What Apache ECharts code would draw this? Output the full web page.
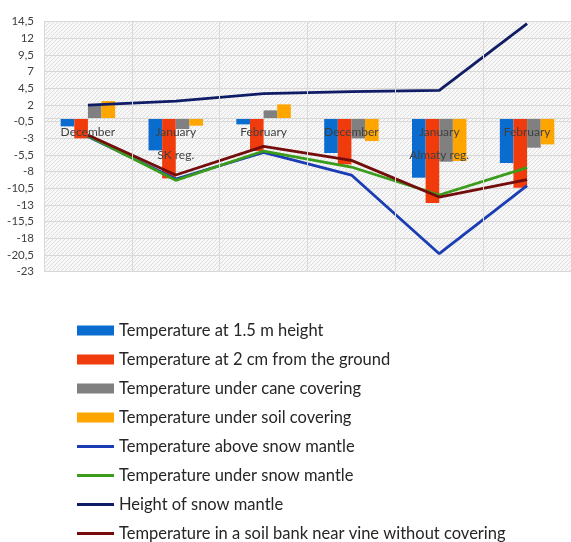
<!DOCTYPE html>
<html>
<head>
<meta charset="utf-8">
<script src="https://cdn.jsdelivr.net/npm/echarts@6/dist/echarts.min.js"></script>
<style>
html,body{margin:0;padding:0;background:#fff;}
#c{width:571px;height:542px;}
</style>
</head>
<body>
<div id="c"></div>
<script>
const months = ['December', 'January', 'February', 'December', 'January', 'February'];
const regions = ['', 'SK reg.', '', '', 'Almaty reg.', ''];
const yTicks = { min: -23, max: 14.5, step: 2.5 };

const names = [
  'Temperature at 1.5 m height',
  'Temperature at 2 cm from the ground',
  'Temperature under cane covering',
  'Temperature under soil covering',
  'Temperature above snow mantle',
  'Temperature under snow mantle',
  'Height of snow mantle',
  'Temperature in a soil bank near vine without covering'
];
const temp15m = [-1.2, -4.8, -0.9, -5.2, -8.9, -6.7];
const temp2cm = [-3.0, -9.0, -4.9, -6.9, -12.7, -10.4];
const underCane = [1.9, -1.6, 1.2, -3.0, -6.5, -4.4];
const underSoil = [2.6, -1.1, 2.1, -3.4, -6.4, -3.9];
const aboveSnow = [-2.7, -9.1, -5.1, -8.5, -20.3, -10.1];
const underSnow = [-2.6, -9.3, -4.9, -7.3, -11.5, -7.4];
const snowHeight = [2.0, 2.6, 3.7, 4.0, 4.2, 14.2];
const soilBank = [-2.5, -8.5, -4.2, -6.3, -11.8, -9.2];

const barColors = ['#0a6ccf', '#f03c0c', '#808080', '#ffa500'];
const lineColors = ['#1a3cb4', '#3a9c1a', '#0f1c66', '#740c0c'];

// hatched plot-area pattern
const pc = document.createElement('canvas');
pc.width = 4; pc.height = 4;
const g = pc.getContext('2d');
g.fillStyle = '#f8f8f8'; g.fillRect(0, 0, 4, 4);
g.fillStyle = '#dedede';
for (let i = 0; i < 4; i++) g.fillRect(i, 3 - i, 1, 1);

const categories = months.map((m, i) => m + '|' + i);

const gridTop = 21.7, gridH = 250;
const zeroOffset = -(0 - yTicks.min) / (yTicks.max - yTicks.min) * gridH;

const chart = echarts.init(document.getElementById('c'), null, { renderer: 'canvas' });
const barData = [temp15m, temp2cm, underCane, underSoil];
const lineData = [aboveSnow, underSnow, snowHeight, soilBank];
const series = [];
barData.forEach((d, i) => series.push({
  name: names[i], type: 'bar', data: d,
  itemStyle: { color: barColors[i] },
  barGap: '0%', barCategoryGap: '38%'
}));
lineData.forEach((d, i) => series.push({
  name: names[4 + i], type: 'line', data: d,
  symbol: 'none', smooth: false,
  lineStyle: { color: lineColors[i], width: 2.8 },
  itemStyle: { color: lineColors[i] }
}));

chart.setOption({
  animation: false,
  backgroundColor: '#fff',
  textStyle: { fontFamily: 'Lato' },
  grid: {
    left: 44, top: gridTop, width: 530, height: gridH,
    show: true, borderWidth: 0,
    backgroundColor: { image: pc, repeat: 'repeat' }
  },
  xAxis: {
    type: 'category', data: categories, z: 10,
    position: 'bottom', offset: zeroOffset,
    axisLine: { show: true, onZero: false, lineStyle: { color: '#d9d9d9' } },
    axisTick: { show: false },
    splitLine: { show: true, lineStyle: { color: '#d9d9d9', width: 1 } },
    axisLabel: {
      margin: 2, interval: 0, color: '#404040', fontSize: 12, lineHeight: 23,
      fontFamily: 'Lato',
      formatter: (v) => {
        const i = parseInt(v.split('|')[1]);
        return months[i] + (regions[i] ? '\n' + regions[i] : '');
      }
    }
  },
  yAxis: {
    type: 'value', min: yTicks.min, max: yTicks.max, interval: yTicks.step,
    axisLine: { show: false }, axisTick: { show: false },
    splitLine: { lineStyle: { color: '#d9d9d9', width: 1 } },
    axisLabel: {
      margin: 10, color: '#404040', fontSize: 11.5, fontFamily: 'Lato',
      formatter: v => String(v).replace('.', ',')
    }
  },
  legend: {
    orient: 'vertical', left: 77, top: 322, height: 260, padding: 0,
    itemWidth: 37, itemHeight: 10, itemGap: 12,
    textStyle: { fontSize: 16.5, color: '#262626', fontFamily: 'Lato' },
    data: names.map((n, i) => i < 4 ? { name: n, icon: 'rect' } : { name: n, icon: 'path://M0,0H37V3H0Z' })
  },
  series: series
});
</script>
</body>
</html>
